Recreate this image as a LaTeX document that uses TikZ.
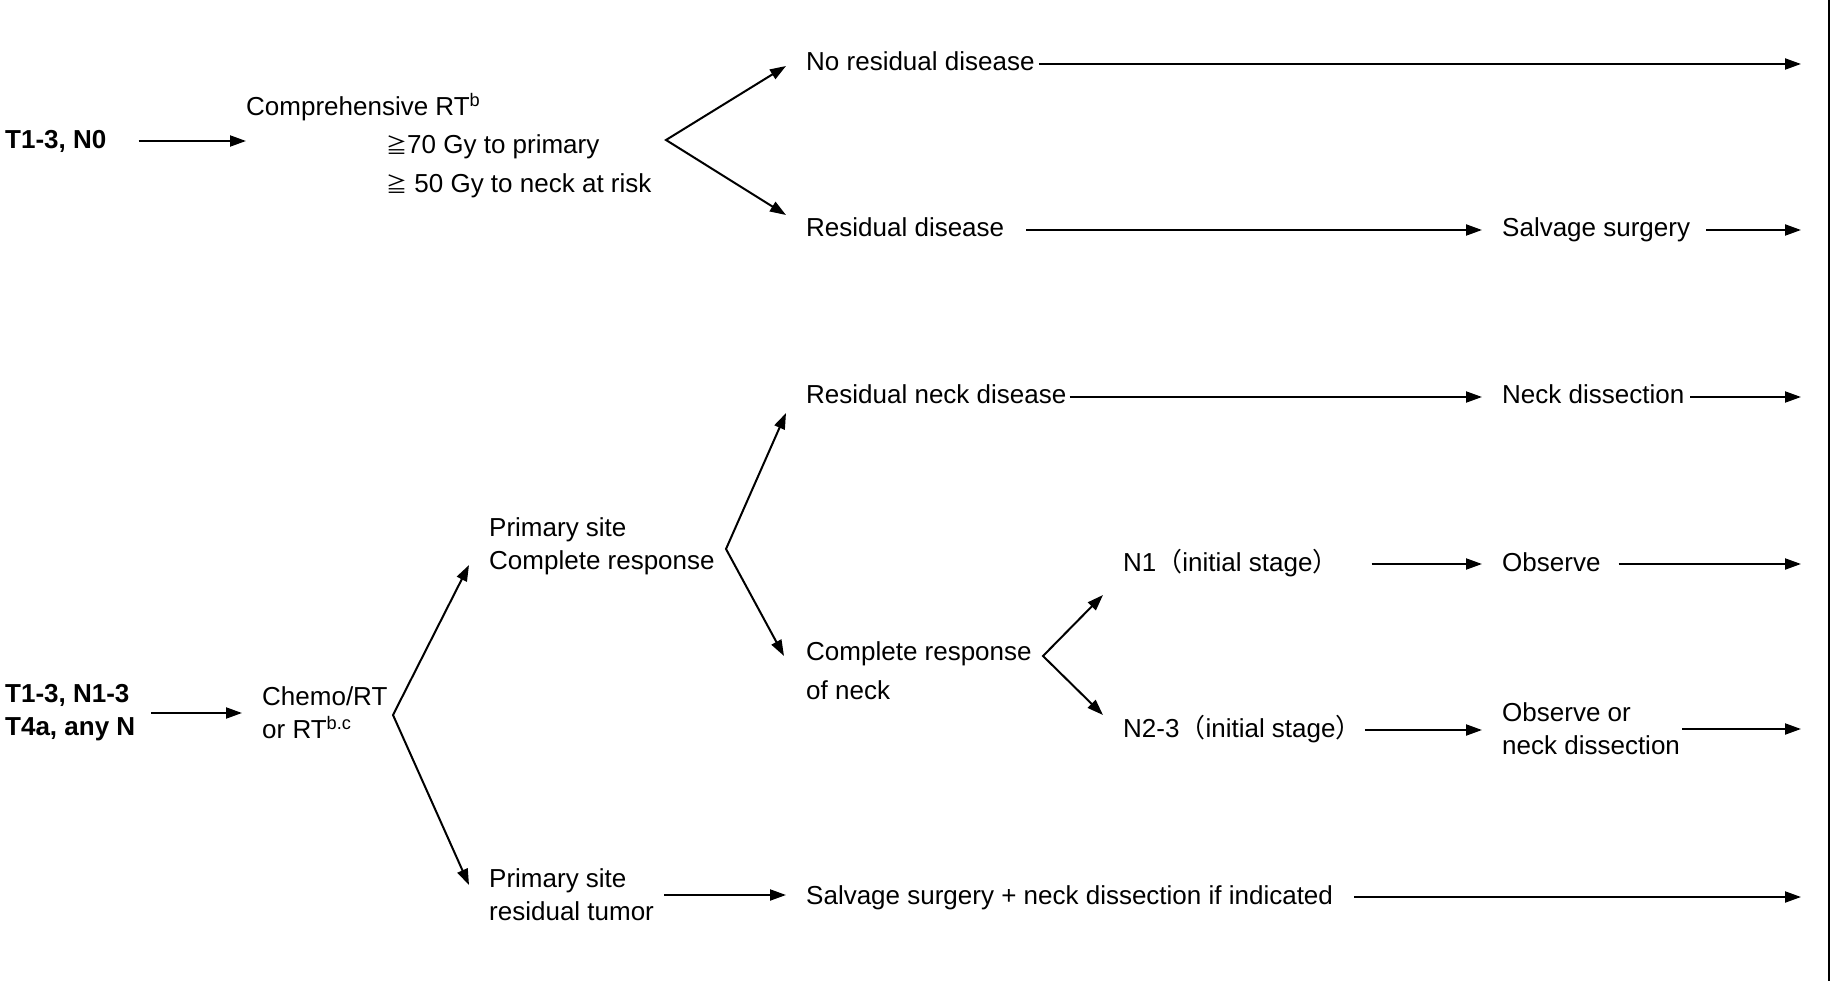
\documentclass[tikz,border=0pt]{standalone}
\usepackage{fontspec}
\setmainfont{Liberation Sans}
\newfontfamily\cjk{Noto Sans CJK SC}
\newcommand\geqq{{\cjk\fontsize{21}{33}\selectfont ≧}}
\usetikzlibrary{arrows.meta,positioning}

\begin{document}
\begin{tikzpicture}[
    x=1pt,y=-1pt,
    txt/.style={font=\fontsize{26}{33}\selectfont,inner sep=0pt,anchor=west,
                text height=19pt,text depth=5pt},
    blk/.style={font=\fontsize{26}{33}\selectfont,inner sep=0pt,anchor=west,align=left},
    stage/.style={blk,font=\fontsize{26}{33}\selectfont\bfseries},
    arr/.style={-{Triangle[length=16pt,width=11pt]},line width=2pt},
    fork/.style={{Triangle[length=16pt,width=11pt]}-{Triangle[length=16pt,width=11pt]},line width=2pt}
  ]
  \useasboundingbox (0,0) rectangle (1834,981);

  % right edge of the flow
  \coordinate (rim) at (1801,0);
  \coordinate (bartop) at (1829,0);
  \coordinate (barbot) at (1829,981);

  % T1-3, N0
  \node[stage] (n0) at (5,141) {T1-3, N0};
  \node[txt] (crt) at (246,109) {Comprehensive RT\textsuperscript{b}};
  \node[txt] (d70) at (386,147) {\geqq70 Gy to primary};
  \node[txt] (d50) at (386,186) {\geqq\ 50 Gy to neck at risk};
  \node[txt] (nores) at (806,64) {No residual disease};
  \node[txt] (res) at (806,230) {Residual disease};
  \node[txt] (salv) at (1502,230) {Salvage surgery};

  % T1-3, N1-3 / T4a, any N
  \node[stage] (n13) at (5,713) {T1-3, N1-3\\T4a, any N};
  \node[blk] (chemo) at (262,713) {Chemo/RT\\or RT\textsuperscript{b.c}};
  \node[blk] (pcr) at (489,546) {Primary site\\Complete response};
  \node[blk] (prt) at (489,895) {Primary site\\residual tumor};
  \node[txt] (rnd) at (806,397) {Residual neck disease};
  \node[txt] (nd) at (1502,397) {Neck dissection};
  \node[blk] (crn) at (806,671) {Complete response\\[6pt]of neck};
  \node[txt] (n1) at (1123,564) {N1{\cjk （}initial stage{\cjk ）}};
  \node[txt] (obs) at (1502,564) {Observe};
  \node[txt] (n23) at (1123,730) {N2-3{\cjk （}initial stage{\cjk ）}};
  \node[blk] (obsnd) at (1502,729) {Observe or\\neck dissection};
  \node[txt] (ssnd) at (806,897) {Salvage surgery + neck dissection if indicated};

  % fork points
  \coordinate (f1) at (666,140);
  \coordinate (u1) at (786,66);
  \coordinate (d1) at (786,215);
  \coordinate (f2) at (726,549);
  \coordinate (u2) at (786,413);
  \coordinate (d2) at (784,656);
  \coordinate (f3) at (393,715);
  \coordinate (u3) at (469,565);
  \coordinate (d3) at (469,885);
  \coordinate (f4) at (1043,656);
  \coordinate (u4) at (1103,595);
  \coordinate (d4) at (1103,715);

  \draw[fork] (u1) -- (f1) -- (d1);
  \draw[fork] (u2) -- (f2) -- (d2);
  \draw[fork] (u3) -- (f3) -- (d3);
  \draw[fork] (u4) -- (f4) -- (d4);

  \draw[arr] ([xshift=32]n0.east) -- (n0 -| crt.west);
  \draw[arr] ([xshift=4]nores.east) -- (nores -| rim);
  \draw[arr,shorten >=20pt] ([xshift=22]res.east) -- (res -| salv.west);
  \draw[arr] ([xshift=16]salv.east) -- (salv -| rim);

  \draw[arr,shorten >=20pt] ([xshift=16]n13.east) -- (n13 -| chemo.west);
  \draw[arr,shorten >=20pt] ([xshift=3]rnd.east) -- (rnd -| nd.west);
  \draw[arr] ([xshift=6]nd.east) -- (nd -| rim);
  \draw[arr,shorten >=20pt] ([xshift=33]n1.east) -- (n1 -| obs.west);
  \draw[arr] ([xshift=18]obs.east) -- (obs -| rim);
  \draw[arr,shorten >=20pt] ([xshift=3]n23.east) -- (n23 -| obsnd.west);
  \draw[arr] ([xshift=2]obsnd.east) -- (obsnd -| rim);
  \draw[arr,shorten >=20pt] ([xshift=10]prt.east) -- (prt -| ssnd.west);
  \draw[arr] ([xshift=21]ssnd.east) -- (ssnd -| rim);

  \draw[line width=2pt] (bartop) -- (barbot);
\end{tikzpicture}
\end{document}
